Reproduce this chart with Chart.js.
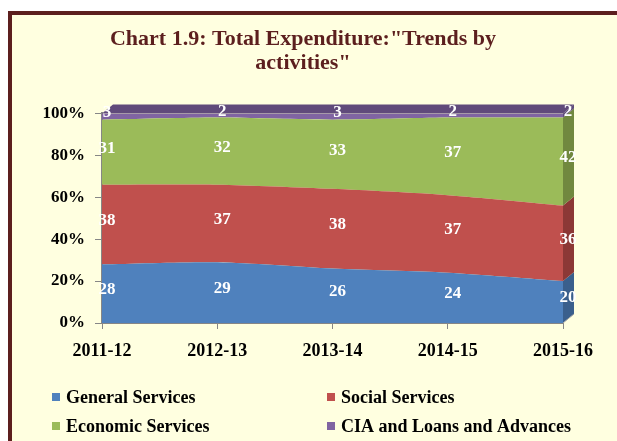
<!DOCTYPE html>
<html>
<head>
<title>Chart 1.9: Total Expenditure</title>
<script src="https://cdn.jsdelivr.net/npm/chart.js"></script>
<style>
  html, body { margin: 0; background: #ffffff; overflow: hidden; }
  canvas { display: block; }
</style>
</head>
<body>
<canvas id="chart" width="617" height="441"></canvas>
<script>
// values in percent of total expenditure
const years = ['2011-12', '2012-13', '2013-14', '2014-15', '2015-16'];
const generalServices = [28, 29, 26, 24, 20];
const socialServices = [38, 37, 38, 37, 36];
const economicServices = [31, 32, 33, 37, 42];
const ciaLoansAdvances = [3, 2, 3, 2, 2];
const seriesNames = ['General Services', 'Social Services', 'Economic Services', 'CIA and Loans and Advances'];
const yTickValues = [0, 20, 40, 60, 80, 100];

const fillColors = ['#4F81BD', '#C0504D', '#9BBB59', '#8064A2'];
const sideColors = ['#3A5F8C', '#8C3836', '#71883F', '#5E4A79'];
const serif = 'Liberation Serif, Times New Roman, serif';
const depth = { dx: 11, dy: -9 };

const allSeries = [generalServices, socialServices, economicServices, ciaLoansAdvances];

// cream panel with a maroon edge on the left and top (panel runs off the right/bottom)
const framePlugin = {
  id: 'frame',
  beforeDraw(chart) {
    const ctx = chart.ctx;
    const w = chart.width, h = chart.height;
    ctx.save();
    ctx.fillStyle = '#ffffff';
    ctx.fillRect(0, 0, w, h);
    ctx.fillStyle = '#FFFFE0';
    ctx.fillRect(12, 15, w - 12, h - 15);
    ctx.fillStyle = '#5C1F1E';
    ctx.fillRect(8, 11, w - 8, 4);
    ctx.fillRect(8, 11, 4, h - 11);
    ctx.restore();
  }
};

// fake 3D side / top faces and the value labels
const depthPlugin = {
  id: 'depth',
  afterDatasetsDraw(chart) {
    const ctx = chart.ctx;
    const xs = chart.scales.x, ys = chart.scales.y;
    const last = years.length - 1;
    const x0 = xs.getPixelForValue(0);
    const xR = xs.getPixelForValue(last);
    ctx.save();
    // right side faces
    let cum = 0;
    allSeries.forEach((s, i) => {
      const yLow = ys.getPixelForValue(cum);
      const yHigh = ys.getPixelForValue(cum + s[last]);
      cum += s[last];
      ctx.fillStyle = sideColors[i];
      ctx.beginPath();
      ctx.moveTo(xR, yLow);
      ctx.lineTo(xR, yHigh);
      ctx.lineTo(xR + depth.dx, yHigh + depth.dy);
      ctx.lineTo(xR + depth.dx, yLow + depth.dy);
      ctx.closePath();
      ctx.fill();
    });
    // top face
    const yT = ys.getPixelForValue(100);
    ctx.fillStyle = '#604A7B';
    ctx.beginPath();
    ctx.moveTo(x0, yT);
    ctx.lineTo(xR, yT);
    ctx.lineTo(xR + depth.dx, yT + depth.dy);
    ctx.lineTo(x0 + depth.dx, yT + depth.dy);
    ctx.closePath();
    ctx.fill();
    // floor edge
    const yB = ys.getPixelForValue(0);
    ctx.strokeStyle = '#A6A6A6';
    ctx.lineWidth = 1;
    ctx.beginPath();
    ctx.moveTo(xR, yB);
    ctx.lineTo(xR + depth.dx, yB + depth.dy);
    ctx.stroke();

    // value labels
    ctx.fillStyle = '#ffffff';
    ctx.font = 'bold 17px ' + serif;
    ctx.textAlign = 'center';
    ctx.textBaseline = 'middle';
    years.forEach((yr, j) => {
      let base = 0;
      allSeries.forEach(s => {
        const mid = base + s[j] / 2;
        base += s[j];
        ctx.fillText(String(s[j]), xs.getPixelForValue(j) + 5, ys.getPixelForValue(mid) - 4);
      });
    });
    ctx.restore();
  }
};

// two-column legend under the axis
const legendPlugin = {
  id: 'colLegend',
  afterDraw(chart) {
    const ctx = chart.ctx;
    const cols = [52, 327];
    const rows = [397, 426];
    ctx.save();
    ctx.font = 'bold 18px ' + serif;
    ctx.textBaseline = 'middle';
    ctx.textAlign = 'left';
    seriesNames.forEach((name, i) => {
      const x = cols[i % 2], y = rows[Math.floor(i / 2)];
      ctx.fillStyle = fillColors[i];
      ctx.fillRect(x, y - 4, 8, 8);
      ctx.fillStyle = '#000000';
      ctx.fillText(name, x + 14, y + 1);
    });
    ctx.restore();
  }
};

const datasets = allSeries.map((s, i) => ({
  label: seriesNames[i],
  data: s,
  backgroundColor: fillColors[i],
  borderWidth: 0,
  pointRadius: 0,
  tension: 0.25,
  fill: i === 0 ? 'origin' : '-1'
}));

new Chart(document.getElementById('chart'), {
  type: 'line',
  data: { labels: years, datasets: datasets },
  options: {
    responsive: false,
    animation: false,
    layout: { padding: { left: 43, right: 54, top: 0, bottom: 78 } },
    plugins: {
      legend: { display: false },
      tooltip: { enabled: false },
      title: {
        display: true,
        text: ['Chart 1.9: Total Expenditure:"Trends by', 'activities"'],
        color: '#5C1F1E',
        font: { family: serif, size: 22, weight: 'bold', lineHeight: 1.1 },
        padding: { top: 27, bottom: 38 }
      }
    },
    scales: {
      x: {
        offset: false,
        afterFit: s => { s.height = 40; },
        grid: { drawOnChartArea: false, drawTicks: true, tickLength: 6, color: '#868686' },
        border: { color: '#868686', width: 2 },
        ticks: { color: '#000000', padding: 12, maxRotation: 0, font: { family: serif, size: 18, weight: 'bold' } }
      },
      y: {
        stacked: true,
        min: 0,
        max: 100,
        afterFit: s => { s.width = 59; },
        afterBuildTicks: s => { s.ticks = yTickValues.map(v => ({ value: v })); },
        grid: { drawOnChartArea: false, drawTicks: true, tickLength: 7, color: '#868686' },
        border: { color: '#868686', width: 2 },
        ticks: { color: '#000000', padding: 10, callback: v => v + '%', font: { family: serif, size: 17, weight: 'bold' } }
      }
    }
  },
  plugins: [framePlugin, depthPlugin, legendPlugin]
});
</script>
</body>
</html>
